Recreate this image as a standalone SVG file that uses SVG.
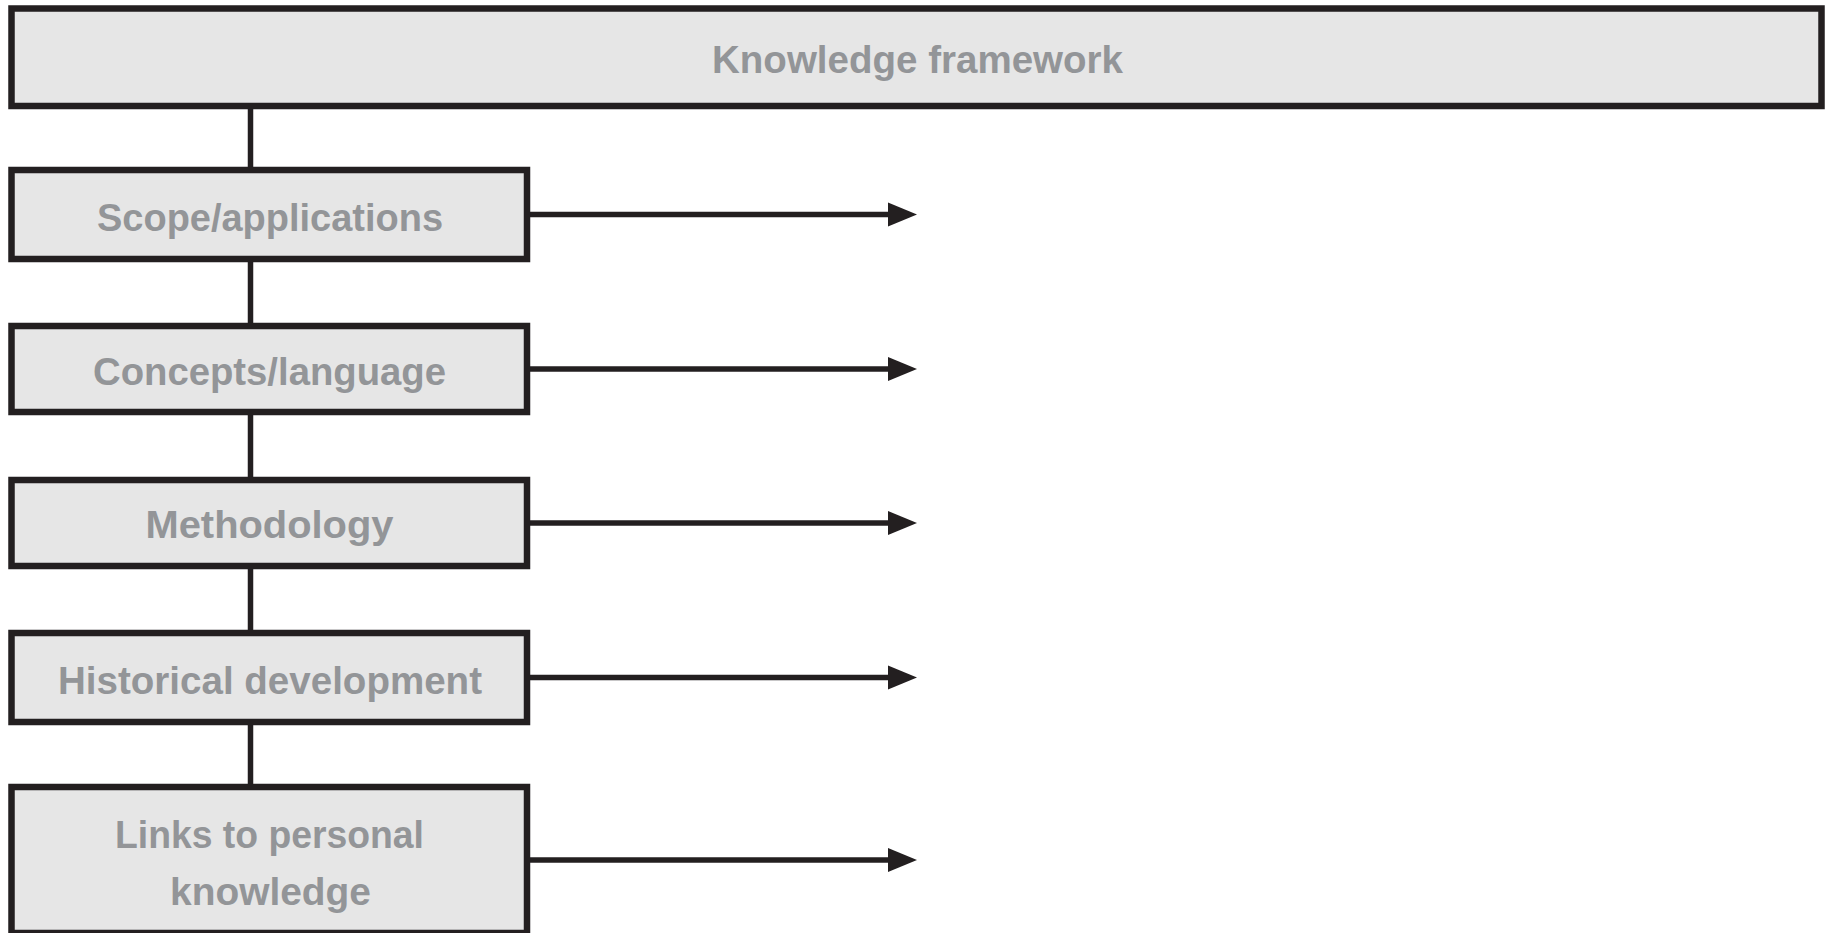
<svg xmlns="http://www.w3.org/2000/svg" width="1826" height="933" viewBox="0 0 1826 933">
<style>
.box{fill:#e6e6e6;stroke:#231f20;stroke-width:6.5}
.lbl{font-family:"Liberation Sans",Arial,sans-serif;font-weight:bold;font-size:39px;fill:#939598;text-anchor:middle}
.link{stroke:#231f20;stroke-width:5.5;fill:none}
</style>
<defs>
<marker id="arr" markerUnits="userSpaceOnUse" markerWidth="30" markerHeight="26" viewBox="0 -13 30 26" refX="0" refY="0" orient="auto">
<path d="M0,-12 L29,0 L0,12 Z" fill="#231f20"/>
</marker>
</defs>
<rect width="1826" height="933" fill="#ffffff"/>
<g id="connectors">
<line class="link" x1="250.5" y1="109" x2="250.5" y2="167"/>
<line class="link" x1="250.5" y1="262" x2="250.5" y2="323"/>
<line class="link" x1="250.5" y1="415" x2="250.5" y2="477"/>
<line class="link" x1="250.5" y1="569" x2="250.5" y2="630"/>
<line class="link" x1="250.5" y1="725" x2="250.5" y2="784"/>
<line class="link" x1="530" y1="214.5" x2="888" y2="214.5" marker-end="url(#arr)"/>
<line class="link" x1="530" y1="369" x2="888" y2="369" marker-end="url(#arr)"/>
<line class="link" x1="530" y1="523" x2="888" y2="523" marker-end="url(#arr)"/>
<line class="link" x1="530" y1="677.5" x2="888" y2="677.5" marker-end="url(#arr)"/>
<line class="link" x1="530" y1="860" x2="888" y2="860" marker-end="url(#arr)"/>
</g>
<g id="knowledge-framework">
<rect class="box" x="11.5" y="8.5" width="1810" height="97.5"/>
<text class="lbl" x="917.5" y="73" textLength="411" lengthAdjust="spacingAndGlyphs">Knowledge framework</text>
</g>
<g id="scope">
<rect class="box" x="11.5" y="170" width="515.5" height="89"/>
<text class="lbl" x="270" y="231" textLength="346" lengthAdjust="spacingAndGlyphs">Scope/applications</text>
</g>
<g id="concepts">
<rect class="box" x="11.5" y="326" width="515.5" height="86"/>
<text class="lbl" x="269.5" y="385" textLength="353" lengthAdjust="spacingAndGlyphs">Concepts/language</text>
</g>
<g id="methodology">
<rect class="box" x="11.5" y="480" width="515.5" height="86"/>
<text class="lbl" x="269.5" y="538" textLength="248" lengthAdjust="spacingAndGlyphs">Methodology</text>
</g>
<g id="historical">
<rect class="box" x="11.5" y="633" width="515.5" height="89"/>
<text class="lbl" x="270" y="694" textLength="424" lengthAdjust="spacingAndGlyphs">Historical development</text>
</g>
<g id="links">
<rect class="box" x="11.5" y="787" width="515.5" height="146"/>
<text class="lbl" x="269.5" y="848" textLength="309" lengthAdjust="spacingAndGlyphs">Links to personal</text>
<text class="lbl" x="270.5" y="905" textLength="201" lengthAdjust="spacingAndGlyphs">knowledge</text>
</g>
</svg>
